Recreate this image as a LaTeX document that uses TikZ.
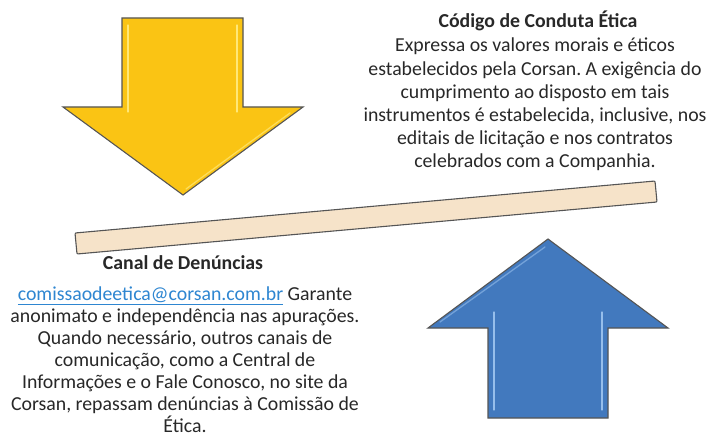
\documentclass[tikz,border=0pt]{standalone}
\usepackage{fontspec}
\setmainfont{Carlito}
\frenchspacing
\definecolor{arrowyellow}{RGB}{250,196,20}
\definecolor{yellowlight}{RGB}{255,232,120}
\definecolor{arrowblue}{RGB}{66,121,190}
\definecolor{bluelight}{RGB}{150,190,235}
\definecolor{beamfill}{RGB}{246,227,201}
\definecolor{edgegray}{RGB}{85,85,85}
\definecolor{linkblue}{RGB}{46,134,209}
\definecolor{textgray}{RGB}{40,40,40}
\begin{document}
\begin{tikzpicture}[x=1pt,y=-1pt,
  shapeedge/.style={draw=edgegray,line width=1.1pt,line join=miter},
  gloss/.style={line width=1.3pt,line cap=round},
  titletext/.style={font=\fontsize{19.8}{23}\selectfont\bfseries,text=textgray,inner sep=0pt,anchor=north},
  bodytext/.style={font=\fontsize{19.8}{23.1}\selectfont,text=textgray,inner sep=0pt,anchor=north,align=center},
  bodyleft/.style={bodytext,font=\fontsize{19.8}{21.9}\selectfont}]
\useasboundingbox[fill=white] (0,0) rectangle (713,436);
% yellow down arrow
\path[shapeedge,fill=arrowyellow] (122,18) -- (243,18) -- (243,107) -- (303,107) -- (183,195) -- (63,107) -- (122,107) -- cycle;
\draw[gloss,yellowlight] (128,25) -- (128,112);
\draw[gloss,yellowlight] (237,25) -- (237,112);
\draw[gloss,yellowlight!70!arrowyellow] (290,113) -- (186,189);
% beam
\path[shapeedge,fill=beamfill,rounded corners=1pt] (75,233) -- (655,181) -- (657,202) -- (77,254) -- cycle;
% blue up arrow
\path[shapeedge,fill=arrowblue] (548,239) -- (668,328) -- (608,328) -- (608,418) -- (488,418) -- (488,328) -- (428,328) -- cycle;
\draw[gloss,bluelight] (494,312) -- (494,410);
\draw[gloss,bluelight] (602,312) -- (602,410);
\draw[gloss,bluelight!60!arrowblue] (545,247) -- (440,322);
% texts
\node[titletext] (codtitle) at (538,11) {Código de Conduta Ética};
\node[bodytext] (codbody) at (535,38) {Expressa os valores morais e éticos\\
estabelecidos pela Corsan. A exigência do\\
cumprimento ao disposto em tais\\
instrumentos é estabelecida, inclusive, nos\\
editais de licitação e nos contratos\\
celebrados com a Companhia.};
\node[titletext] (cantitle) at (183,255) {Canal de Denúncias};
\node[bodyleft] (canbody) at (185,287) {{\color{linkblue}\underline{comissaodeetica@corsan.com.br}} Garante\\
anonimato e independência nas apurações.\\
Quando necessário, outros canais de\\
comunicação, como a Central de\\
Informações e o Fale Conosco, no site da\\
Corsan, repassam denúncias à Comissão de\\
Ética.};
\end{tikzpicture}
\end{document}
